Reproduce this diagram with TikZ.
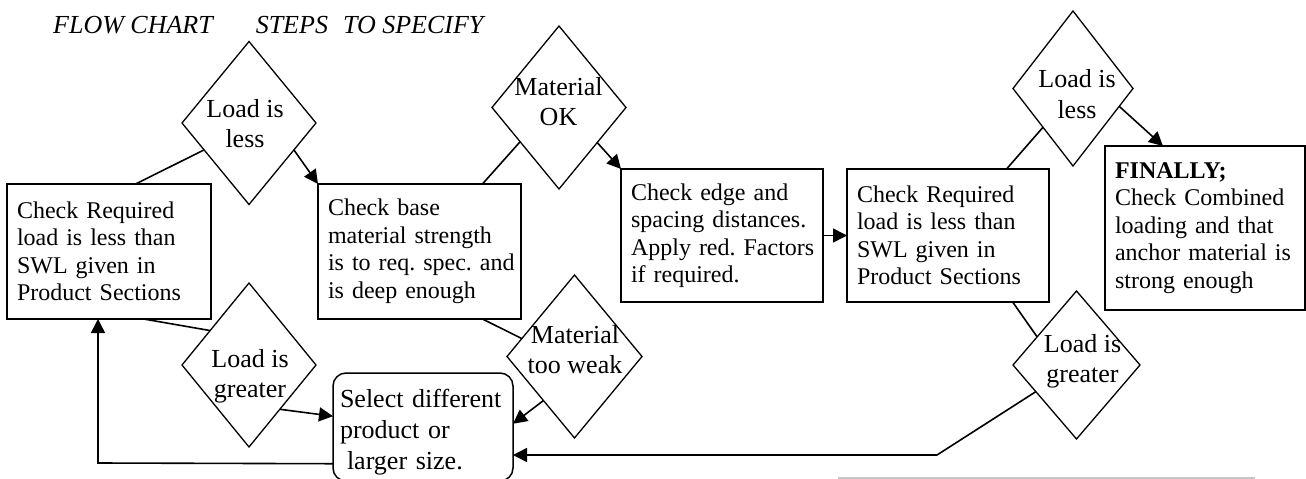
\documentclass[tikz,border=0pt]{standalone}
\usepackage{fontspec}
\setmainfont{Liberation Serif}
\usetikzlibrary{shapes.geometric,arrows.meta,calc}
\hyphenpenalty=10000
\exhyphenpenalty=10000
\begin{document}
\begin{tikzpicture}[x=1pt,y=-1pt,
  box/.style={draw,line width=2.2pt,rectangle,inner xsep=10pt,inner ysep=0pt,align=left,
    font={\fontsize{24}{27.5}\selectfont},outer sep=0pt},
  selbox/.style={draw,rounded corners=13pt,line width=1.5pt,inner xsep=7pt,inner ysep=0pt,
    align=left,font={\fontsize{26}{31}\selectfont},outer sep=0pt},
  dia/.style={draw,diamond,line width=1.3pt,inner sep=0pt,outer sep=0pt},
  dtext/.style={inner sep=0pt,align=center,anchor=north,font={\fontsize{26}{30}\selectfont}},
  conn/.style={line width=1.6pt},
  arr/.style={conn,-{Triangle[length=14pt,width=14pt]}},
]
\useasboundingbox (0,0) rectangle (1306,479);

\node[anchor=base west,inner sep=0pt,font={\fontsize{26}{30}\selectfont\itshape}] (title) at (53,33)
  {FLOW CHART\hspace*{43pt}STEPS\hspace*{15pt}TO SPECIFY};

% boxes
\node[box,text width=184pt,minimum height=135pt] (b1) at (109,251.5)
  {\mbox{Check Required}\\\mbox{load is less than}\\\mbox{SWL given in}\\\mbox{Product Sections}};
\node[box,text width=183pt,minimum height=135pt] (b2) at (419.5,251.5)
  {\mbox{Check base}\\\mbox{material strength}\\\mbox{is to req.\ spec.\ and}\\\mbox{is deep enough}};
\node[box,text width=182pt,minimum height=133pt] (b3) at (722,235.5)
  {\mbox{Check edge and}\\\mbox{spacing distances.}\\\mbox{Apply red.\ Factors}\\\mbox{if required.}};
\node[box,text width=182pt,minimum height=133pt] (b4) at (948,235.5)
  {\mbox{Check Required}\\\mbox{load is less than}\\\mbox{SWL given in}\\\mbox{Product Sections}};
\node[box,text width=180pt,minimum height=164pt] (b5) at (1205,228)
  {\mbox{\textbf{FINALLY;}}\\\mbox{Check Combined}\\\mbox{loading and that}\\\mbox{anchor material is}\\\mbox{strong enough}};
\node[selbox,text width=166pt,minimum height=108pt] (sel) at (423,427)
  {\rule{0pt}{28pt}\mbox{Select different}\\\mbox{product or}\\\hspace*{7pt}\mbox{larger size.}};

% diamonds
\node[dia,minimum width=134pt,minimum height=163pt] (d1) at (249,123) {};
\node[dtext] (d1t) at (245,99.3) {Load is\\less};
\node[dia,minimum width=134pt,minimum height=164pt] (d2) at (249,365) {};
\node[dtext] (d2t) at (250,349.5) {Load is\\greater};
\node[dia,minimum width=134pt,minimum height=163pt] (d3) at (559,107.5) {};
\node[dtext] (d3t) at (558.5,77.5) {Material\\OK};
\node[dia,minimum width=135pt,minimum height=163pt] (d4) at (574.5,356.5) {};
\node[dtext] (d4t) at (575,325.5) {Material\\too weak};
\node[dia,minimum width=120pt,minimum height=155pt] (d5) at (1073,88.5) {};
\node[dtext,font={\fontsize{26}{31}\selectfont}] (d5t) at (1077,69.5) {Load is\\less};
\node[dia,minimum width=127pt,minimum height=148pt] (d6) at (1076.5,365) {};
\node[dtext] (d6t) at (1082.5,334.5) {Load is\\greater};

% connectors
\draw[conn] ($(b1.north west)!0.63!(b1.north east)$) -- ($(d1.west)!0.33!(d1.south)$);
\draw[arr] ($(d1.east)!0.33!(d1.south)$) -- (b2.north west);
\draw[conn] ($(b2.north west)!0.81!(b2.north east)$) -- ($(d3.west)!0.42!(d3.south)$);
\draw[arr] ($(d3.east)!0.43!(d3.south)$) -- (b3.north west);
\draw[arr] (b3.east) -- (b4.west);
\draw[conn] ($(b4.north west)!0.79!(b4.north east)$) -- ($(d5.west)!0.5!(d5.south)$);
\draw[arr] ($(d5.east)!0.23!(d5.south)$) -- ($(b5.north west)!0.29!(b5.north east)$);
\draw[conn] ($(b4.south west)!0.82!(b4.south east)$) -- ($(d6.north)!0.62!(d6.west)$);
\coordinate (k1) at (937,455);
\draw[arr] ($(d6.west)!0.36!(d6.south)$) -- (k1) -- (k1 -| sel.east);
\draw[conn] ($(b1.south west)!0.67!(b1.south east)$) -- ($(d2.north)!0.58!(d2.west)$);
\draw[arr] ($(d2.east)!0.54!(d2.south)$) -- ($(sel.north west)!0.4!(sel.south west)$);
\draw[conn] ($(b2.south west)!0.81!(b2.south east)$) -- ($(d4.north)!0.78!(d4.west)$);
\draw[arr] ($(d4.west)!0.54!(d4.south)$) -- ($(sel.north east)!0.47!(sel.south east)$);
\coordinate (k2) at (98,463);
\draw[arr] ($(sel.north west)!0.84!(sel.south west)$) -- (k2) -- (k2 |- b1.south);

% stray grey rule at the bottom
\draw[line width=1.5pt,black!22] (838,478) -- (1255,478);
\end{tikzpicture}
\end{document}
